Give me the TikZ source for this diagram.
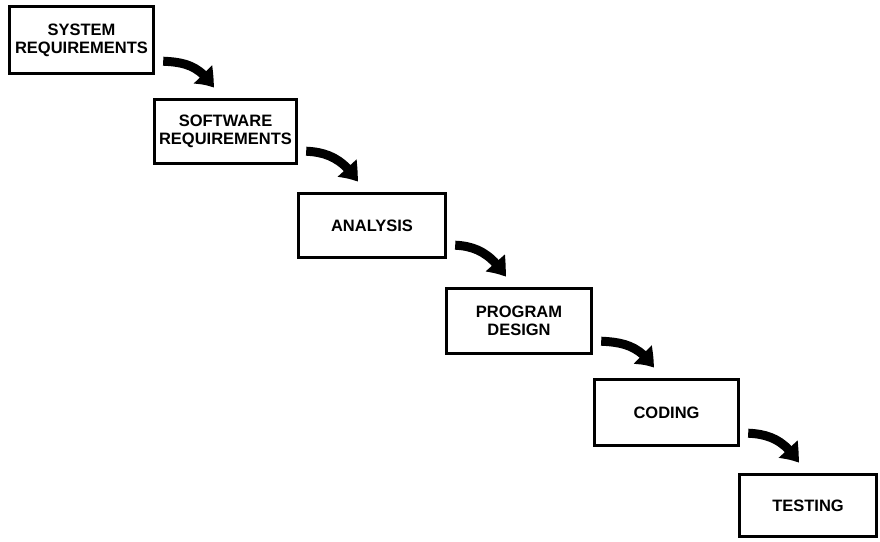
\documentclass[tikz,border=0pt]{standalone}
\usepackage{fontspec}
\setmainfont{Liberation Sans}
\usetikzlibrary{arrows.meta,calc,bending}
\tikzset{
  stage/.style={draw=black, line width=3.4pt, fill=white, inner sep=0pt,
    align=center, font=\bfseries\fontsize{16.5}{18}\selectfont},
  flow/.style={line width=9pt, -{Triangle[width=24pt,length=18pt,bend]}}
}
\begin{document}
\begin{tikzpicture}[x=1pt,y=-1pt]
\useasboundingbox (0,0) rectangle (880,541);
\node[stage, minimum width=144pt, minimum height=67pt] (s1) at (81.5,40) {SYSTEM\\REQUIREMENTS};
\node[stage, minimum width=142pt, minimum height=64pt] (s2) at (225.5,131.5) {SOFTWARE\\REQUIREMENTS};
\node[stage, minimum width=147pt, minimum height=64pt] (s3) at (372,225.5) {ANALYSIS};
\node[stage, minimum width=145pt, minimum height=65pt] (s4) at (519,321) {PROGRAM\\DESIGN};
\node[stage, minimum width=144pt, minimum height=66pt] (s5) at (666.5,412.5) {CODING};
\node[stage, minimum width=137pt, minimum height=62pt] (s6) at (808,505.5) {TESTING};
\foreach \a/\b in {s1/s2,s2/s3,s3/s4,s4/s5,s5/s6}{
  \draw[flow] ($(\a.south east)+(8,-14)$) .. controls +(22,1) and +(-14,-22) .. ($(\b.north west)+(61,-10)$);
}
\end{tikzpicture}
\end{document}
